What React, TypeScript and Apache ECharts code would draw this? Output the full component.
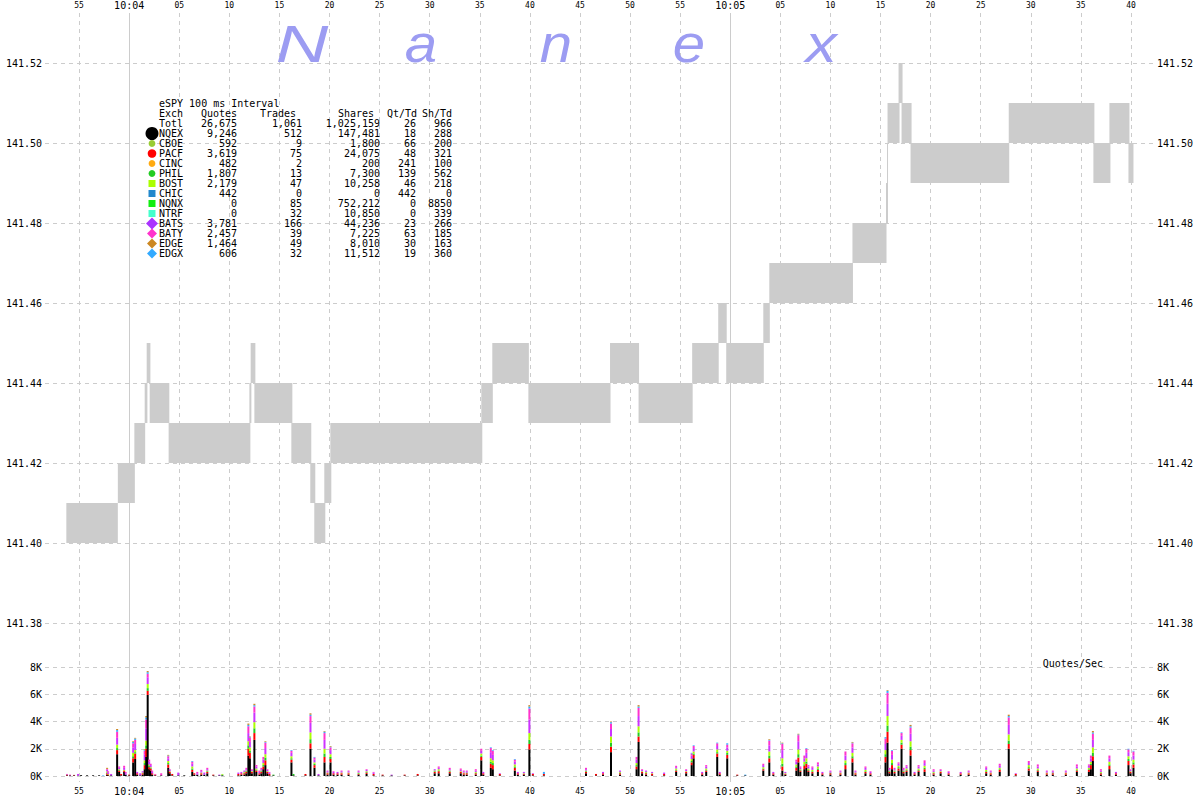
import React, { useEffect, useRef } from "react";
import * as echarts from "echarts";

// ---------- time axis: seconds relative to 10:04:00 ----------
const axisStart = -8.4;
const axisEnd = 102.2;

// ---------- NBBO boxes (bid/ask range over time) ----------
const boxStart = [-6.27, -1.13, 0.52, 1.55, 1.75, 2.05, 3.94, 12.0, 12.13, 12.5, 16.19, 18.08, 18.48, 19.48, 20.08, 35.15, 36.25, 39.85, 48.0, 50.85, 56.2, 58.8, 59.6, 63.3, 63.9, 72.2, 75.55, 75.65, 75.7, 76.8, 77.1, 78.0, 87.8, 96.25, 97.85, 99.75];
const boxEnd = [-1.13, 0.57, 1.6, 1.82, 2.12, 4.01, 12.1, 12.2, 12.6, 16.29, 18.18, 18.58, 19.58, 20.18, 35.25, 36.3, 39.9, 48.05, 50.9, 56.25, 58.85, 59.65, 63.35, 63.95, 72.25, 75.6, 75.75, 75.75, 76.9, 77.2, 78.1, 87.85, 96.35, 97.95, 99.85, 100.25];
const boxBid = [141.40, 141.41, 141.42, 141.43, 141.44, 141.43, 141.42, 141.43, 141.44, 141.43, 141.42, 141.41, 141.40, 141.41, 141.42, 141.43, 141.44, 141.43, 141.44, 141.43, 141.44, 141.45, 141.44, 141.45, 141.46, 141.47, 141.48, 141.49, 141.50, 141.51, 141.50, 141.49, 141.50, 141.49, 141.50, 141.49];
const boxAsk = [141.41, 141.42, 141.43, 141.44, 141.45, 141.44, 141.43, 141.44, 141.45, 141.44, 141.43, 141.42, 141.41, 141.42, 141.43, 141.44, 141.45, 141.44, 141.45, 141.44, 141.45, 141.46, 141.45, 141.46, 141.47, 141.48, 141.49, 141.50, 141.51, 141.52, 141.51, 141.50, 141.51, 141.50, 141.51, 141.50];

// ---------- quotes/sec spikes (100 ms intervals) ----------
const spikeT = [
  -6.2, -5.9, -5.5, -5.1, -4.8, -4.2, -3.6, -3.0, -2.6, -2.2,
  -2.1, -1.8, -1.2, -1.0, -0.8, -0.5, -0.35, 0.0, 0.4, 0.6,
  0.8, 1.1, 1.35, 1.55, 1.7, 1.85, 2.0, 2.15, 2.3, 2.6,
  3.2, 3.9, 4.05, 4.3, 4.9, 5.5, 6.3, 6.5, 6.8, 7.2,
  7.5, 7.8, 8.4, 9.0, 9.3, 10.9, 11.2, 11.5, 11.7, 11.9,
  12.05, 12.25, 12.5, 12.7, 13.0, 13.2, 13.4, 13.6, 13.8, 14.0,
  14.4, 16.2, 16.4, 17.6, 18.1, 18.5, 18.9, 19.5, 19.8, 20.1,
  20.4, 20.8, 21.2, 21.9, 22.9, 23.7, 24.4, 25.3, 26.2, 27.5,
  28.8, 30.5, 30.9, 32.0, 33.1, 33.4, 33.7, 34.6, 35.15, 35.35,
  36.1, 36.3, 37.0, 38.5, 38.8, 39.4, 39.95, 40.3, 41.4, 45.6,
  46.6, 47.3, 48.1, 49.0, 50.65, 50.85, 51.2, 51.6, 52.2, 53.4,
  54.6, 55.6, 56.15, 56.35, 57.2, 57.6, 58.7, 58.95, 59.7, 60.7,
  61.5, 63.3, 63.9, 64.3, 65.2, 65.5, 66.6, 66.8, 67.0, 67.4,
  67.6, 67.8, 68.2, 68.75, 69.2, 70.0, 71.0, 71.5, 72.2, 72.5,
  73.5, 74.0, 75.5, 75.7, 75.9, 76.15, 76.4, 76.8, 77.1, 77.3,
  77.6, 78.0, 78.4, 78.8, 79.4, 80.3, 81.0, 81.8, 83.0, 83.8,
  85.55, 86.0, 86.9, 87.8, 88.5, 89.8, 90.7, 91.6, 92.2, 93.5,
  94.6, 95.8, 96.0, 96.2, 97.0, 97.85, 98.5, 99.75, 99.95, 100.25,
];
const qNQEX = [
  50, 50, 50, 30, 60, 50, 50, 50, 0, 100,
  50, 50, 1600, 300, 50, 300, 100, 50, 1000, 1250,
  100, 50, 100, 500, 1400, 5950, 500, 400, 100, 50,
  50, 600, 200, 50, 50, 50, 300, 100, 100, 100,
  100, 200, 50, 50, 50, 50, 100, 100, 200, 1500,
  1300, 200, 2650, 300, 100, 200, 500, 800, 200, 50,
  50, 1000, 50, 50, 2000, 600, 50, 1000, 100, 1000,
  100, 100, 100, 100, 100, 150, 50, 50, 50, 50,
  50, 200, 200, 200, 200, 100, 100, 100, 1150, 100,
  600, 500, 50, 400, 100, 100, 1950, 50, 50, 200,
  50, 100, 1750, 100, 500, 2500, 200, 100, 50, 50,
  300, 200, 800, 1300, 100, 300, 1400, 100, 1300, 50,
  50, 400, 1000, 100, 400, 100, 400, 1000, 300, 500,
  600, 300, 200, 300, 100, 100, 100, 500, 1000, 100,
  200, 100, 1000, 2450, 200, 500, 200, 400, 2000, 200,
  300, 1500, 100, 300, 300, 100, 200, 100, 100, 100,
  200, 100, 300, 2000, 50, 400, 300, 100, 100, 100,
  300, 300, 500, 1100, 100, 500, 100, 800, 200, 600,
];
const qPACF = [
  60, 0, 30, 0, 0, 0, 0, 0, 0, 100,
  60, 0, 300, 100, 100, 100, 0, 50, 300, 400,
  100, 0, 100, 300, 600, 300, 150, 150, 100, 50,
  0, 250, 100, 100, 0, 0, 150, 100, 0, 100,
  0, 100, 50, 0, 0, 100, 100, 100, 100, 500,
  400, 100, 500, 100, 100, 100, 200, 350, 100, 100,
  0, 200, 0, 100, 400, 200, 0, 400, 100, 250,
  100, 100, 100, 100, 50, 100, 100, 50, 0, 50,
  100, 100, 150, 100, 100, 100, 100, 100, 250, 100,
  300, 300, 100, 200, 100, 50, 400, 100, 100, 100,
  100, 100, 400, 100, 200, 400, 100, 100, 100, 100,
  100, 100, 200, 250, 100, 100, 250, 100, 250, 50,
  0, 100, 300, 100, 300, 50, 200, 350, 100, 250,
  300, 100, 100, 150, 100, 100, 100, 300, 300, 100,
  100, 100, 400, 800, 100, 300, 100, 150, 300, 100,
  100, 400, 100, 100, 200, 100, 100, 100, 100, 100,
  100, 100, 150, 350, 100, 150, 100, 100, 100, 100,
  100, 150, 300, 350, 100, 250, 100, 300, 100, 250,
];
const qPHIL = [
  0, 0, 0, 0, 0, 0, 0, 0, 0, 60,
  0, 0, 150, 50, 0, 0, 0, 0, 150, 100,
  0, 0, 0, 150, 250, 200, 100, 50, 0, 0,
  0, 100, 0, 0, 0, 0, 100, 0, 0, 0,
  0, 50, 0, 0, 50, 0, 0, 50, 50, 250,
  150, 0, 350, 50, 0, 50, 100, 200, 0, 0,
  50, 100, 100, 0, 300, 100, 0, 250, 0, 150,
  0, 0, 0, 0, 50, 50, 0, 0, 0, 0,
  0, 50, 50, 50, 0, 0, 50, 50, 100, 0,
  150, 150, 0, 100, 0, 0, 300, 0, 0, 50,
  0, 0, 300, 50, 100, 300, 0, 50, 0, 0,
  50, 0, 100, 100, 0, 50, 100, 0, 150, 0,
  0, 50, 200, 0, 200, 0, 100, 250, 50, 100,
  150, 50, 50, 100, 0, 50, 0, 150, 150, 0,
  50, 0, 200, 450, 50, 150, 50, 100, 150, 50,
  50, 250, 0, 50, 100, 50, 0, 0, 0, 0,
  50, 0, 50, 250, 0, 100, 50, 0, 50, 0,
  50, 50, 100, 250, 50, 100, 0, 150, 0, 150,
];
const qBOST = [
  0, 0, 0, 0, 0, 0, 0, 0, 0, 80,
  40, 0, 250, 50, 0, 50, 0, 0, 250, 150,
  0, 0, 50, 200, 350, 300, 100, 50, 0, 0,
  0, 150, 50, 0, 0, 0, 150, 0, 0, 50,
  0, 50, 0, 0, 50, 0, 0, 50, 50, 300,
  250, 50, 450, 100, 0, 50, 150, 250, 50, 0,
  0, 150, 0, 0, 500, 100, 0, 350, 50, 200,
  0, 0, 50, 50, 50, 50, 0, 0, 0, 0,
  0, 50, 100, 50, 50, 50, 0, 50, 150, 0,
  250, 200, 0, 150, 0, 50, 500, 0, 0, 50,
  0, 0, 450, 50, 150, 450, 50, 50, 50, 0,
  100, 50, 150, 150, 0, 100, 200, 0, 150, 0,
  0, 100, 300, 0, 400, 50, 150, 350, 50, 200,
  250, 100, 100, 150, 0, 0, 50, 200, 250, 50,
  100, 0, 300, 700, 50, 250, 50, 100, 200, 50,
  100, 400, 0, 100, 150, 50, 50, 0, 0, 50,
  100, 50, 100, 450, 0, 150, 100, 50, 0, 50,
  100, 100, 150, 400, 50, 200, 0, 200, 50, 200,
];
const qBATS = [
  40, 0, 0, 120, 0, 0, 0, 0, 0, 120,
  120, 100, 500, 100, 0, 150, 100, 0, 400, 450,
  100, 150, 100, 400, 900, 500, 200, 150, 100, 0,
  0, 200, 100, 0, 200, 0, 200, 0, 100, 100,
  150, 100, 0, 50, 0, 100, 100, 100, 100, 600,
  400, 100, 700, 150, 100, 100, 250, 450, 100, 100,
  0, 250, 0, 0, 700, 200, 100, 650, 100, 300,
  100, 100, 100, 100, 100, 100, 100, 0, 50, 0,
  0, 100, 100, 100, 100, 100, 100, 100, 200, 100,
  450, 400, 50, 200, 100, 100, 1000, 50, 0, 100,
  0, 100, 550, 100, 250, 750, 100, 100, 100, 100,
  100, 100, 250, 250, 100, 150, 250, 100, 250, 0,
  0, 150, 450, 100, 600, 100, 200, 600, 100, 250,
  400, 150, 150, 150, 100, 100, 100, 350, 400, 100,
  150, 100, 450, 900, 100, 350, 100, 150, 300, 100,
  150, 550, 100, 150, 200, 100, 100, 100, 100, 100,
  150, 100, 150, 700, 50, 150, 150, 100, 100, 100,
  150, 150, 250, 550, 100, 250, 100, 300, 100, 300,
];
const qBATY = [
  0, 50, 0, 0, 0, 0, 0, 0, 0, 60,
  80, 0, 450, 100, 0, 150, 100, 0, 300, 300,
  0, 0, 0, 300, 650, 250, 150, 100, 100, 50,
  150, 150, 50, 0, 0, 0, 150, 0, 100, 100,
  0, 100, 0, 0, 0, 0, 0, 0, 100, 500,
  300, 50, 450, 100, 100, 100, 200, 400, 50, 50,
  0, 150, 0, 0, 500, 150, 0, 500, 50, 200,
  50, 0, 50, 50, 50, 50, 50, 0, 0, 0,
  0, 0, 100, 100, 100, 50, 50, 100, 150, 0,
  300, 300, 0, 150, 0, 0, 800, 0, 0, 100,
  0, 0, 400, 0, 200, 600, 50, 0, 0, 0,
  100, 50, 150, 150, 0, 100, 200, 0, 200, 0,
  0, 100, 350, 0, 450, 0, 150, 450, 100, 200,
  300, 100, 100, 150, 0, 50, 50, 300, 300, 50,
  100, 50, 400, 800, 100, 300, 100, 100, 200, 100,
  100, 450, 0, 100, 200, 100, 50, 50, 0, 50,
  100, 50, 150, 550, 0, 150, 150, 50, 50, 50,
  150, 100, 200, 450, 100, 200, 0, 200, 50, 300,
];
const qEDGX = [
  0, 0, 0, 0, 0, 0, 0, 0, 40, 0,
  0, 0, 120, 0, 0, 0, 0, 0, 100, 100,
  0, 0, 0, 50, 150, 120, 0, 0, 0, 0,
  0, 50, 0, 0, 0, 0, 50, 0, 0, 0,
  0, 0, 0, 0, 0, 0, 0, 0, 0, 100,
  50, 0, 100, 0, 0, 0, 0, 50, 0, 0,
  0, 50, 0, 0, 100, 50, 0, 100, 0, 50,
  0, 0, 0, 0, 0, 0, 0, 0, 0, 0,
  0, 0, 0, 0, 0, 0, 0, 0, 0, 0,
  50, 50, 0, 50, 0, 0, 150, 0, 150, 0,
  0, 0, 100, 0, 0, 100, 0, 0, 0, 0,
  0, 0, 50, 50, 0, 0, 50, 0, 100, 0,
  50, 0, 50, 0, 50, 0, 0, 50, 0, 0,
  50, 0, 0, 0, 0, 0, 0, 0, 50, 0,
  0, 0, 100, 150, 0, 50, 0, 0, 50, 0,
  0, 100, 0, 0, 0, 0, 0, 0, 0, 0,
  0, 0, 0, 100, 0, 0, 0, 0, 0, 0,
  0, 0, 0, 100, 0, 0, 0, 50, 0, 50,
];
const qEDGE = [
  0, 0, 0, 0, 0, 0, 0, 0, 0, 80,
  0, 0, 80, 0, 0, 0, 0, 0, 50, 50,
  0, 0, 0, 50, 100, 80, 0, 0, 0, 0,
  0, 50, 0, 0, 0, 0, 0, 0, 0, 0,
  0, 0, 0, 0, 0, 0, 0, 0, 0, 100,
  50, 0, 100, 0, 0, 0, 0, 50, 0, 0,
  0, 0, 0, 0, 100, 0, 0, 50, 0, 50,
  0, 0, 0, 0, 0, 0, 0, 0, 0, 0,
  0, 0, 0, 0, 0, 0, 0, 0, 0, 0,
  0, 0, 0, 0, 0, 0, 100, 0, 0, 0,
  0, 0, 50, 0, 0, 100, 0, 0, 0, 0,
  0, 0, 0, 0, 0, 0, 0, 0, 0, 0,
  0, 0, 50, 0, 50, 0, 0, 50, 0, 0,
  0, 0, 0, 0, 0, 0, 0, 0, 50, 0,
  0, 0, 0, 50, 0, 0, 0, 0, 0, 0,
  0, 100, 0, 0, 0, 0, 0, 0, 0, 0,
  0, 0, 0, 100, 0, 0, 0, 0, 0, 0,
  0, 0, 0, 100, 0, 0, 0, 0, 0, 0,
];

// ---------- exchange summary table ----------
const tableTitle = "eSPY 100 ms Interval";
const tableHeaders = ["Exch", "Quotes", "Trades", "Shares", "Qt/Td", "Sh/Td"];
const totalRow = ["Totl", "26,675", "1,061", "1,025,159", "26", "966"];
const exchNames = ["NQEX", "CBOE", "PACF", "CINC", "PHIL", "BOST", "CHIC", "NQNX", "NTRF", "BATS", "BATY", "EDGE", "EDGX"];
const exchQuotes = ["9,246", "592", "3,619", "482", "1,807", "2,179", "442", "0", "0", "3,781", "2,457", "1,464", "606"];
const exchTrades = ["512", "9", "75", "2", "13", "47", "0", "85", "32", "166", "39", "49", "32"];
const exchShares = ["147,481", "1,800", "24,075", "200", "7,300", "10,258", "0", "752,212", "10,850", "44,236", "7,225", "8,010", "11,512"];
const exchQtTd = ["18", "66", "48", "241", "139", "46", "442", "0", "0", "23", "63", "30", "19"];
const exchShTd = ["288", "200", "321", "100", "562", "218", "0", "8850", "339", "266", "185", "163", "360"];
const exchColors = ["#000000", "#99cc33", "#ff0000", "#ffaa11", "#22cc22", "#aaff00", "#2288cc", "#11ee11", "#44ffcc", "#aa33ff", "#ff33cc", "#cc8822", "#33aaff"];
const exchMarkers = ["big", "circle", "dot", "circle", "circle", "square", "square", "square", "square", "bigdiamond", "diamond", "diamond", "diamond"];

const watermarkLetters = ["N", "a", "n", "e", "x"];

const MONO = '"DejaVu Sans Mono", "Liberation Mono", monospace';
const GRID_LINE = "#cccccc";

function secLabel(v: number): string {
  const s = Math.round(v);
  const sec = ((s % 60) + 60) % 60;
  if (sec === 0) return "";
  return String(sec).padStart(2, "0");
}
function minuteLabel(v: number): string {
  const s = Math.round(v);
  const m = 4 + Math.floor(s / 60);
  return `10:0${m}`;
}

function txt(text: string, x: number, y: number, align: string, size = 10, color = "#000") {
  return {
    type: "text",
    x,
    y,
    silent: true,
    z: 100,
    style: {
      text,
      font: `${size}px ${MONO}`,
      fill: color,
      align,
      verticalAlign: "middle",
      textAlign: align,
      textVerticalAlign: "middle",
    },
  };
}

function marker(kind: string, color: string, cx: number, cy: number) {
  if (kind === "big") return { type: "circle", silent: true, z: 100, shape: { cx, cy, r: 6.5 }, style: { fill: color } };
  if (kind === "dot") return { type: "circle", silent: true, z: 100, shape: { cx, cy, r: 4.3 }, style: { fill: color } };
  if (kind === "circle") return { type: "circle", silent: true, z: 100, shape: { cx, cy, r: 3.4 }, style: { fill: color } };
  if (kind === "square") return { type: "rect", silent: true, z: 100, shape: { x: cx - 3.5, y: cy - 3.5, width: 7, height: 7 }, style: { fill: color } };
  const h = kind === "bigdiamond" ? 6 : 5;
  return {
    type: "polygon",
    silent: true,
    z: 100,
    shape: { points: [[cx, cy - h], [cx + h, cy], [cx, cy + h], [cx - h, cy]] },
    style: { fill: color },
  };
}

function buildGraphic() {
  const els: any[] = [];
  // watermark
  const wx = [302, 421, 556, 689, 821];
  const wScale = [1.4, 1.12, 1.12, 1.12, 1.2];
  watermarkLetters.forEach((l, i) => {
    els.push({
      type: "text",
      x: wx[i],
      y: 44,
      scaleX: wScale[i],
      silent: true,
      z: 1,
      style: {
        text: l,
        font: 'italic 52px "Liberation Sans", Arial, sans-serif',
        fill: "#9c9cf2",
        align: "center",
        verticalAlign: "middle",
        textAlign: "center",
        textVerticalAlign: "middle",
      },
    });
  });
  // table
  const rowY = (i: number) => 103.5 + 10 * i;
  const colRight = [0, 237, 302, 380, 416, 452];
  const headRight = [0, 237, 296, 374, 417, 452];
  els.push(txt(tableTitle, 159, rowY(0), "left"));
  els.push(txt(tableHeaders[0], 159, rowY(1), "left"));
  for (let c = 1; c < 6; c++) els.push(txt(tableHeaders[c], headRight[c], rowY(1), "right"));
  els.push(txt(totalRow[0], 159, rowY(2), "left"));
  for (let c = 1; c < 6; c++) els.push(txt(totalRow[c], colRight[c], rowY(2), "right"));
  exchNames.forEach((name, i) => {
    const y = rowY(3 + i);
    els.push(marker(exchMarkers[i], exchColors[i], 152, y));
    els.push(txt(name, 159, y, "left"));
    els.push(txt(exchQuotes[i], colRight[1], y, "right"));
    els.push(txt(exchTrades[i], colRight[2], y, "right"));
    els.push(txt(exchShares[i], colRight[3], y, "right"));
    els.push(txt(exchQtTd[i], colRight[4], y, "right"));
    els.push(txt(exchShTd[i], colRight[5], y, "right"));
  });
  els.push(txt("Quotes/Sec", 1103, 663, "right"));
  return els;
}

const barDefs = [
  { name: "NQEX", data: qNQEX, color: "#000000" },
  { name: "PACF", data: qPACF, color: "#ff0000" },
  { name: "PHIL", data: qPHIL, color: "#22cc22" },
  { name: "BOST", data: qBOST, color: "#aaff00" },
  { name: "BATS", data: qBATS, color: "#cc33ff" },
  { name: "BATY", data: qBATY, color: "#ff33cc" },
  { name: "EDGX", data: qEDGX, color: "#33aaff" },
  { name: "EDGE", data: qEDGE, color: "#cc8822" },
];

function buildOption(): any {
  const dashed = { color: GRID_LINE, type: [4, 4], width: 1 };
  const timeAxis = (position: string, withSplit: boolean) => ({
    type: "value",
    gridIndex: 0,
    position,
    min: axisStart,
    max: axisEnd,
    minInterval: 5,
    maxInterval: 5,
    splitNumber: 22,
    axisLine: { show: false },
    axisTick: { show: false },
    axisLabel: {
      formatter: secLabel,
      fontFamily: MONO,
      fontSize: 8,
      color: "#000",
      margin: position === "top" ? 4 : 5,
      showMinLabel: false,
      showMaxLabel: false,
    },
    splitLine: { show: withSplit, showMinLine: false, showMaxLine: false, lineStyle: dashed },
  });
  const minuteAxis = (position: string, withSplit: boolean) => ({
    type: "value",
    gridIndex: 0,
    position,
    min: axisStart,
    max: axisEnd,
    minInterval: 60,
    maxInterval: 60,
    axisLine: { show: false },
    axisTick: { show: false },
    axisLabel: {
      formatter: minuteLabel,
      fontFamily: MONO,
      fontSize: 10,
      color: "#000",
      margin: position === "top" ? 3 : 4,
      showMinLabel: false,
      showMaxLabel: false,
    },
    splitLine: {
      show: withSplit,
      showMinLine: false,
      showMaxLine: false,
      lineStyle: { color: GRID_LINE, type: "solid", width: 1 },
    },
  });
  const priceAxis = (position: string) => ({
    type: "value",
    gridIndex: 1,
    position,
    min: 141.37,
    max: 141.53,
    splitNumber: 8,
    minInterval: 0.02,
    maxInterval: 0.02,
    axisLine: { show: false },
    axisTick: { show: false },
    axisLabel: {
      formatter: (v: number) => v.toFixed(2),
      showMinLabel: false,
      showMaxLabel: false,
      margin: position === "left" ? 3 : 4,
      color: "#000",
      fontFamily: MONO,
      fontSize: 10,
    },
    splitLine: { show: position === "left", showMinLine: false, showMaxLine: false, lineStyle: dashed },
  });
  const rateAxis = (position: string) => ({
    type: "value",
    gridIndex: 2,
    position,
    min: 0,
    max: 8000,
    interval: 2000,
    axisLine: { show: false },
    axisTick: { show: false },
    axisLabel: {
      formatter: (v: number) => `${Math.round(v / 1000)}K`,
      margin: position === "left" ? 3 : 4,
      color: "#000",
      fontFamily: MONO,
      fontSize: 10,
    },
    splitLine: { show: position === "left", lineStyle: dashed },
  });

  return {
    animation: false,
    backgroundColor: "#ffffff",
    grid: [
      { left: 45, right: 47, top: 12, bottom: 18 },
      { left: 45, right: 47, top: 23, bottom: 137 },
      { left: 45, right: 47, top: 667, bottom: 24 },
    ],
    xAxis: [
      timeAxis("top", true),
      timeAxis("bottom", false),
      minuteAxis("bottom", true),
      { type: "value", gridIndex: 1, min: axisStart, max: axisEnd, show: false },
      { type: "value", gridIndex: 2, min: axisStart, max: axisEnd, show: false },
      minuteAxis("top", false),
    ],
    yAxis: [
      { type: "value", gridIndex: 0, min: 0, max: 1, show: false },
      priceAxis("left"),
      priceAxis("right"),
      rateAxis("left"),
      rateAxis("right"),
    ],
    series: [
      {
        type: "custom",
        name: "NBBO",
        xAxisIndex: 3,
        yAxisIndex: 1,
        encode: { x: [0, 1], y: [2, 3] },
        data: boxStart.map((s, i) => [s, boxEnd[i], boxBid[i], boxAsk[i]]),
        renderItem: (_params: any, api: any) => {
          const p0 = api.coord([api.value(0), api.value(3)]);
          const p1 = api.coord([api.value(1), api.value(2)]);
          return {
            type: "rect",
            shape: { x: p0[0], y: p0[1], width: p1[0] - p0[0], height: p1[1] - p0[1] },
            style: { fill: "#cccccc" },
          };
        },
      },
      {
        type: "custom",
        name: "Quotes/Sec",
        xAxisIndex: 4,
        yAxisIndex: 3,
        encode: { x: 0, y: 1 },
        data: spikeT.map((t, i) => [t, ...barDefs.map((b) => b.data[i])]),
        renderItem: (_params: any, api: any) => {
          const t = api.value(0);
          let acc = 0;
          const children: any[] = [];
          barDefs.forEach((b, k) => {
            const v = api.value(k + 1);
            if (v > 0) {
              const pTop = api.coord([t, acc + v]);
              const pBot = api.coord([t, acc]);
              children.push({
                type: "rect",
                shape: { x: pTop[0] - 1, y: pTop[1], width: 2, height: pBot[1] - pTop[1] },
                style: { fill: b.color },
              });
            }
            acc += v;
          });
          return { type: "group", children };
        },
      },
    ],
    graphic: buildGraphic(),
  };
}

export default function App() {
  const ref = useRef<HTMLDivElement>(null);
  useEffect(() => {
    document.body.style.margin = "0";
    const chart = echarts.init(ref.current as HTMLDivElement, null, { renderer: "svg" });
    chart.setOption(buildOption());
    return () => chart.dispose();
  }, []);
  return <div ref={ref} style={{ width: 1200, height: 800, background: "#fff" }} />;
}
